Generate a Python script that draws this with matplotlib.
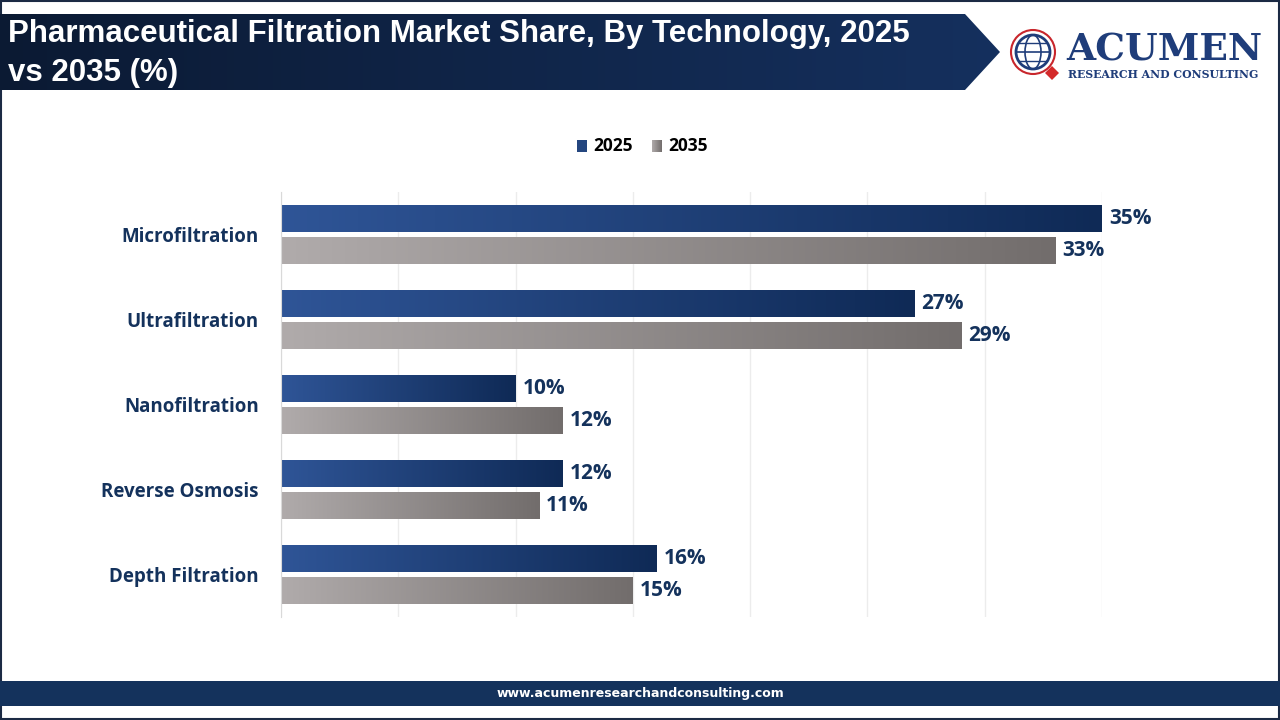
import numpy as np
import matplotlib.pyplot as plt
from matplotlib.patches import Polygon, Rectangle, Circle, Ellipse
from matplotlib.colors import LinearSegmentedColormap

# Data
categories = ["Microfiltration", "Ultrafiltration", "Nanofiltration", "Reverse Osmosis", "Depth Filtration"]
share_2025 = [35, 27, 10, 12, 16]
share_2035 = [33, 29, 12, 11, 15]
years = ["2025", "2035"]

navy = "#14325c"
blue_cmap = LinearSegmentedColormap.from_list("b", ["#2f5597", "#0f2a56"])
grey_cmap = LinearSegmentedColormap.from_list("g", ["#b0abab", "#726d6c"])

fig = plt.figure(figsize=(12.8, 7.2), dpi=100)
W, H = 1280, 720

# background overlay axes in pixel coords
bg = fig.add_axes([0, 0, 1, 1])
bg.set_xlim(0, W)
bg.set_ylim(H, 0)
bg.axis("off")

# outer border
bg.add_patch(Rectangle((1, 1), W - 2, H - 2, fill=False, ec="#1b2a44", lw=1.5))

# header banner with gradient
grad = np.linspace(0, 1, 256).reshape(1, -1)
hdr_cmap = LinearSegmentedColormap.from_list("h", ["#0b1a33", "#15305e"])
banner = Polygon([[0, 14], [965, 14], [1000, 52], [965, 90], [0, 90]], closed=True, fc="none", ec="none")
bg.add_patch(banner)
im = bg.imshow(grad, extent=(0, 1000, 90, 14), cmap=hdr_cmap, aspect="auto", zorder=1)
im.set_clip_path(banner)
bg.text(8, 34, "Pharmaceutical Filtration Market Share, By Technology, 2025",
        color="white", fontsize=22.5, fontweight="bold", family="Liberation Sans", va="center", zorder=2)
bg.text(8, 73, "vs 2035 (%)", color="white", fontsize=22.5, fontweight="bold",
        family="Liberation Sans", va="center", zorder=2)

# logo
bg.add_patch(Circle((1033, 52), 22, fill=False, ec="#c8262c", lw=1.5))
bg.add_patch(Circle((1033, 52), 17, fill=False, ec="#1f3d7a", lw=2))
bg.add_patch(Ellipse((1033, 52), 16, 34, fill=False, ec="#1f3d7a", lw=1.2))
bg.plot([1016, 1050], [52, 52], color="#1f3d7a", lw=1.2)
bg.plot([1019, 1047], [43, 43], color="#1f3d7a", lw=1)
bg.plot([1019, 1047], [61, 61], color="#1f3d7a", lw=1)
bg.add_patch(Polygon([[1052, 66], [1059, 73], [1052, 80], [1045, 73]], fc="#d42a2a", ec="none"))
bg.text(1066, 50, "ACUMEN", color="#1f3d7a", fontsize=27, family="DejaVu Serif",
        fontweight="bold", va="center")
bg.text(1068, 74, "RESEARCH AND CONSULTING", color="#1f3d7a", fontsize=7.8,
        family="DejaVu Serif", fontweight="bold", va="center")

# footer
bg.add_patch(Rectangle((0, 681), W, 25, fc=navy, ec="none"))
bg.text(W / 2, 693, "www.acumenresearchandconsulting.com", color="white", fontsize=9,
        fontweight="bold", ha="center", va="center")

# legend
bg.add_patch(Rectangle((577, 140), 10, 12, fc="#24467f", ec="none"))
bg.text(593, 146, years[0], fontsize=12.5, fontweight="bold", va="center", family="Open Sans")
grey_sq = Rectangle((652, 140), 10, 12, fc="none", ec="none")
bg.add_patch(grey_sq)
im2 = bg.imshow(grad, extent=(652, 662, 152, 140), cmap=grey_cmap, aspect="auto")
im2.set_clip_path(grey_sq)
bg.text(668, 146, years[1], fontsize=12.5, fontweight="bold", va="center", family="Open Sans")

# main chart
ax = fig.add_axes([281 / W, 1 - 617 / H, (1102 - 281) / W, 425 / H])
y = np.arange(len(categories))
bh = 0.32
gap = 0.06

def grad_bars(ypos, vals, cmap):
    bars = ax.barh(ypos, vals, height=bh, color="none", zorder=2)
    for b in bars:
        x0, y0 = b.get_x(), b.get_y()
        w, h = b.get_width(), b.get_height()
        g = ax.imshow(grad, extent=(x0, x0 + w, y0 + h, y0), cmap=cmap, aspect="auto", zorder=2)
        g.set_clip_path(b)
    return bars

b1 = grad_bars(y - bh / 2 - gap / 2, share_2025, blue_cmap)
b2 = grad_bars(y + bh / 2 + gap / 2, share_2035, grey_cmap)
ax.set_xlim(0, 35)
ax.set_ylim(len(categories) - 0.5, -0.5)

for bars, vals in [(b1, share_2025), (b2, share_2035)]:
    for b, v in zip(bars, vals):
        ax.text(v + 0.3, b.get_y() + b.get_height() / 2, f"{v}%", va="center", ha="left",
                fontsize=15, fontweight="bold", color=navy, family="Open Sans", clip_on=False)

ax.set_yticks(y)
ax.set_yticklabels(categories, fontsize=13.5, fontweight="bold", color=navy, family="Open Sans")
ax.tick_params(axis="y", length=0, pad=16)
ax.set_xticks(np.arange(0, 36, 5))
ax.tick_params(axis="x", length=0, labelbottom=False)
ax.grid(axis="x", color="#ececec", lw=1, zorder=0)
ax.set_axisbelow(True)
for s in ["top", "right", "bottom"]:
    ax.spines[s].set_visible(False)
ax.spines["left"].set_color("#d9d9d9")
ax.set_facecolor("none")

fig.savefig("out.png", dpi=100)
